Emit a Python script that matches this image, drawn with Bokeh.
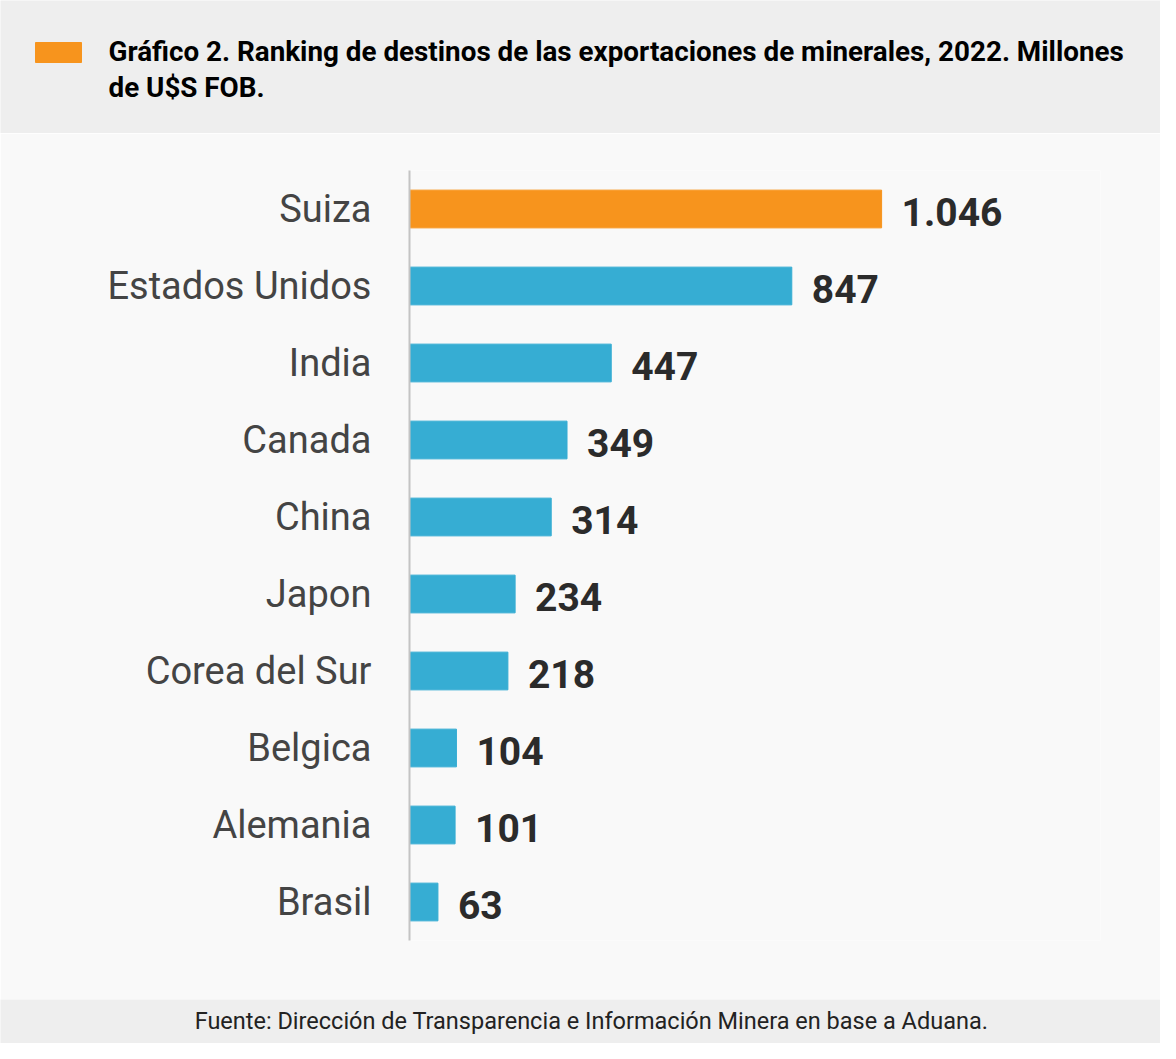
from bokeh.plotting import figure
from bokeh.models import Range1d, FactorRange, ColumnDataSource
from bokeh.layouts import column
from bokeh.core.properties import value
from bokeh.embed import file_html
from bokeh.resources import INLINE

# ---- data ----
countries = ["Suiza", "Estados Unidos", "India", "Canada", "China", "Japon",
             "Corea del Sur", "Belgica", "Alemania", "Brasil"]
values = [1046, 847, 447, 349, 314, 234, 218, 104, 101, 63]
value_labels = ["1.046", "847", "447", "349", "314", "234", "218", "104", "101", "63"]
bar_colors = ["#f7941d"] + ["#36add3"] * 9
title_lines = ["Gráfico 2. Ranking de destinos de las exportaciones de minerales, 2022. Millones",
               "de U$S FOB."]
source_text = "Fuente: Dirección de Transparencia e Información Minera en base a Aduana."

W = 1160
FONT = "Roboto"
HH, MH, FH = 133, 866, 44

# ---- header ----
hdr = figure(width=W, height=HH, x_range=Range1d(0, W), y_range=Range1d(HH, 0),
             output_backend="svg", toolbar_location=None, min_border=0)
hdr.frame_align = False
hdr.axis.visible = False
hdr.grid.visible = False
hdr.outline_line_color = None
hdr.background_fill_color = "#eeeeee"
hdr.border_fill_color = "#eeeeee"
hdr.quad(left=[35], right=[81], top=[42], bottom=[62], color="#f7941d")
hdr.text(x=[108, 108], y=[51, 87], text=title_lines, text_font=value(FONT),
         text_font_style="bold", text_font_size="27.8px", text_color="#000000",
         text_baseline="middle", text_align="left")

# ---- main chart ----
src = ColumnDataSource(dict(country=countries, val=values, lab=value_labels, col=bar_colors))
p = figure(width=W, height=MH, y_range=FactorRange(*countries[::-1], range_padding=0),
           x_range=Range1d(0, 1531), output_backend="svg", toolbar_location=None,
           min_border_left=409, min_border_right=60, min_border_top=37, min_border_bottom=59)
p.frame_align = False
p.hbar(y="country", right="val", left=0, height=0.49, color="col", source=src)
p.text(x="val", y="country", text="lab", source=src, x_offset=20, y_offset=3,
       text_font=value(FONT), text_font_style="bold", text_font_size="39px",
       text_color="#2b2b2b", text_baseline="middle", text_align="left")
p.xaxis.visible = False
p.grid.visible = False
p.outline_line_color = None
p.background_fill_color = "#f9f9f9"
p.border_fill_color = "#f9f9f9"
ya = p.yaxis[0]
ya.axis_line_color = "#c4c4c4"
ya.axis_line_width = 2
ya.major_tick_line_color = None
ya.minor_tick_line_color = None
ya.major_tick_out = 0
ya.major_label_standoff = 38
ya.major_label_text_font = FONT
ya.major_label_text_font_size = "38px"
ya.major_label_text_color = "#444444"

# ---- footer ----
ftr = figure(width=W, height=FH, x_range=Range1d(0, W), y_range=Range1d(FH, 0),
             output_backend="svg", toolbar_location=None, min_border=0)
ftr.frame_align = False
ftr.axis.visible = False
ftr.grid.visible = False
ftr.outline_line_color = None
ftr.background_fill_color = "#eeeeee"
ftr.border_fill_color = "#eeeeee"
ftr.text(x=[591], y=[21], text=[source_text], text_font=value(FONT),
         text_font_size="23.5px", text_color="#222222", text_baseline="middle",
         text_align="center")

layout = column(hdr, p, ftr, spacing=0)
open("out.html", "w").write(file_html(layout, INLINE))
